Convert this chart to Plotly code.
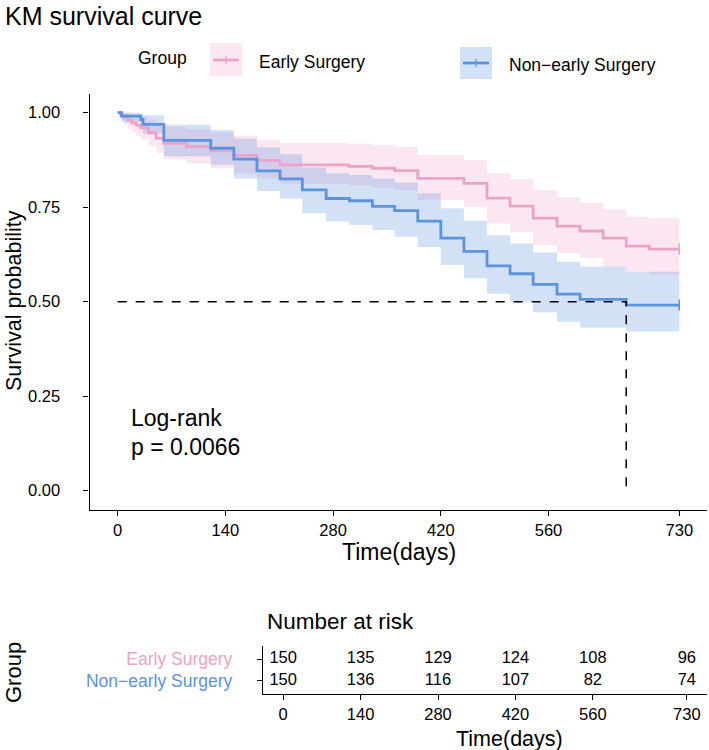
import plotly.graph_objects as go

W, H = 709, 750

# ---------------- data ----------------
early_time = [0, 4, 8, 13, 18, 24, 30, 40, 50, 60, 90, 121, 151, 181, 211, 300, 331, 360,
              390, 450, 480, 510, 540, 571, 601, 631, 661, 691]
early_surv = [1, 0.993, 0.987, 0.980, 0.973, 0.967, 0.960, 0.947, 0.933, 0.919, 0.910, 0.899,
              0.887, 0.874, 0.862, 0.858, 0.853, 0.847, 0.826, 0.813, 0.774, 0.753, 0.721,
              0.700, 0.687, 0.668, 0.647, 0.639]
early_upper = [1, 1, 1, 0.998, 0.995, 0.993, 0.990, 0.983, 0.975, 0.962, 0.956, 0.948, 0.939,
               0.928, 0.920, 0.918, 0.914, 0.910, 0.888, 0.875, 0.840, 0.824, 0.796, 0.776,
               0.762, 0.744, 0.725, 0.721]
early_lower = [1, 0.980, 0.969, 0.958, 0.948, 0.939, 0.930, 0.912, 0.894, 0.877, 0.866, 0.853,
               0.840, 0.826, 0.812, 0.808, 0.802, 0.795, 0.769, 0.751, 0.707, 0.685, 0.650,
               0.628, 0.615, 0.593, 0.579, 0.571]

non_time = [0, 5, 30, 33, 60, 121, 151, 181, 211, 240, 271, 301, 331, 360, 390, 420, 450,
            480, 510, 540, 571, 601, 661]
non_surv = [1, 0.991, 0.982, 0.969, 0.927, 0.906, 0.877, 0.846, 0.825, 0.796, 0.773, 0.767,
            0.752, 0.741, 0.713, 0.668, 0.633, 0.595, 0.574, 0.546, 0.520, 0.506, 0.491]
non_upper = [1, 1.0, 0.998, 0.993, 0.968, 0.954, 0.932, 0.908, 0.890, 0.855, 0.840, 0.835,
             0.826, 0.815, 0.787, 0.747, 0.714, 0.676, 0.654, 0.630, 0.606, 0.593, 0.579]
non_lower = [1, 0.976, 0.960, 0.945, 0.885, 0.862, 0.826, 0.793, 0.773, 0.734, 0.712, 0.703,
             0.690, 0.672, 0.645, 0.597, 0.562, 0.521, 0.500, 0.472, 0.447, 0.432, 0.421]

end_time = 730

risk_times = [0, 140, 280, 420, 560, 730]
risk_early = [150, 135, 129, 124, 108, 96]
risk_non = [150, 136, 116, 107, 82, 74]

groups = ["Early Surgery", "Non\u2212early Surgery"]
y_ticks = [0, 0.25, 0.5, 0.75, 1.0]
y_ticklabels = ["0.00", "0.25", "0.50", "0.75", "1.00"]
x_ticks = [0, 140, 280, 420, 560, 730]

PINK = "#EBA3C7"
BLUE = "#5C93DE"
PINK_FILL = "rgba(240,160,200,0.25)"
BLUE_FILL = "rgba(92,147,222,0.28)"
FONT = "Liberation Sans, Arial, sans-serif"


def px_x(px):
    return px / W


def px_y(py):
    return 1 - py / H


fig = go.Figure()


def add_band(t, lo, up, fill_col):
    tt = t + [end_time]
    fig.add_trace(go.Scatter(x=tt, y=lo + [lo[-1]], mode="lines", line=dict(width=0, shape="hv"),
                             showlegend=False, hoverinfo="skip", xaxis="x", yaxis="y"))
    fig.add_trace(go.Scatter(x=tt, y=up + [up[-1]], mode="lines", line=dict(width=0, shape="hv"),
                             fill="tonexty", fillcolor=fill_col, showlegend=False,
                             hoverinfo="skip", xaxis="x", yaxis="y"))


def add_line(t, s, line_col, name):
    tt = t + [end_time]
    fig.add_trace(go.Scatter(x=tt, y=s + [s[-1]], mode="lines",
                             line=dict(width=2.8, shape="hv", color=line_col),
                             name=name, showlegend=False, xaxis="x", yaxis="y"))
    fig.add_trace(go.Scatter(x=[end_time], y=[s[-1]], mode="markers",
                             marker=dict(symbol="line-ns-open", size=8, color=line_col,
                                         line=dict(width=1.5, color=line_col)),
                             showlegend=False, xaxis="x", yaxis="y"))


add_band(early_time, early_lower, early_upper, PINK_FILL)
add_band(non_time, non_lower, non_upper, BLUE_FILL)
add_line(early_time, early_surv, PINK, groups[0])
add_line(non_time, non_surv, BLUE, groups[1])

# median survival line (Non-early group)
median_t = next(t for t, s in zip(non_time, non_surv) if s <= 0.5)
fig.add_trace(go.Scatter(x=[0, median_t, median_t], y=[0.5, 0.5, 0], mode="lines",
                         line=dict(color="black", width=1.5, dash="dash"),
                         showlegend=False, xaxis="x", yaxis="y"))

# risk table
fig.add_trace(go.Scatter(x=risk_times, y=[2] * len(risk_times), mode="text",
                         text=[str(v) for v in risk_early],
                         textfont=dict(size=16.5, color="black", family=FONT),
                         showlegend=False, xaxis="x2", yaxis="y2"))
fig.add_trace(go.Scatter(x=risk_times, y=[1] * len(risk_times), mode="text",
                         text=[str(v) for v in risk_non],
                         textfont=dict(size=16.5, color="black", family=FONT),
                         showlegend=False, xaxis="x2", yaxis="y2"))

axis_common = dict(showline=True, linecolor="black", linewidth=1.4, ticks="outside",
                   tickcolor="black", ticklen=5, tickwidth=1.2, showgrid=False, zeroline=False)
tick_font = dict(size=16.5, color="black", family=FONT)

fig.update_layout(
    width=W, height=H, autosize=False,
    margin=dict(l=0, r=0, t=0, b=0),
    plot_bgcolor="white", paper_bgcolor="white",
    font=dict(family=FONT, color="black"),
    xaxis=dict(domain=[px_x(89.6), px_x(707.4)], range=[-36.5, 766.5], anchor="y",
               tickvals=x_ticks, ticktext=[str(v) for v in x_ticks], tickfont=tick_font,
               **axis_common),
    yaxis=dict(domain=[px_y(509.6), px_y(93.8)], range=[-0.05, 1.05], anchor="x",
               tickvals=y_ticks, ticktext=y_ticklabels, ticklabelstandoff=20, tickfont=tick_font,
               **axis_common),
    xaxis2=dict(domain=[px_x(263), px_x(707)], range=[-36.5, 766.5], anchor="y2",
                tickvals=x_ticks, ticktext=[str(v) for v in x_ticks], tickfont=tick_font,
                **axis_common),
    yaxis2=dict(domain=[px_y(694), px_y(646)], range=[0.4, 2.6], anchor="x2",
                tickvals=[2, 1],
                ticktext=[f"<span style='color:{PINK}'>{groups[0]}</span>",
                          f"<span style='color:{BLUE}'>{groups[1]}</span>"],
                ticklabelstandoff=21, tickfont=dict(size=17.5, family=FONT),
                **axis_common),
)

ann = []


def text(x, y, s, size, xanchor="left", yanchor="middle", angle=0, color="black"):
    ann.append(dict(x=px_x(x), y=px_y(y), xref="paper", yref="paper", text=s, showarrow=False,
                    xanchor=xanchor, yanchor=yanchor, textangle=angle,
                    font=dict(size=size, color=color, family=FONT)))


text(3, 16, "KM survival curve", 25)
text(136, 58, "Group", 17.5)
text(257, 62, "Early Surgery", 17.5)
text(507, 65, "Non\u2212early Surgery", 17.5)
text(14, 301, "Survival probability", 21.5, xanchor="center", angle=-90)
text(398.5, 552, "Time(days)", 23, xanchor="center")
text(129, 418, "Log-rank", 23)
text(129, 447, "p = 0.0066", 23)
text(265, 621, "Number at risk", 22.5)
text(13, 673, "Group", 22, xanchor="center", angle=-90)
text(509, 739, "Time(days)", 21.5, xanchor="center")
fig.update_layout(annotations=ann)

# legend keys
shapes = [
    dict(type="rect", xref="paper", yref="paper", x0=px_x(210), x1=px_x(242), y0=px_y(76), y1=px_y(43),
         fillcolor=PINK_FILL, line=dict(width=0)),
    dict(type="line", xref="paper", yref="paper", x0=px_x(213), x1=px_x(239), y0=px_y(60), y1=px_y(60),
         line=dict(color=PINK, width=2.8)),
    dict(type="line", xref="paper", yref="paper", x0=px_x(226), x1=px_x(226), y0=px_y(56), y1=px_y(64),
         line=dict(color=PINK, width=1.2)),
    dict(type="rect", xref="paper", yref="paper", x0=px_x(460), x1=px_x(492), y0=px_y(79), y1=px_y(47),
         fillcolor=BLUE_FILL, line=dict(width=0)),
    dict(type="line", xref="paper", yref="paper", x0=px_x(463), x1=px_x(489), y0=px_y(63), y1=px_y(63),
         line=dict(color=BLUE, width=2.8)),
    dict(type="line", xref="paper", yref="paper", x0=px_x(476), x1=px_x(476), y0=px_y(59), y1=px_y(67),
         line=dict(color=BLUE, width=1.2)),
]
fig.update_layout(shapes=shapes)

fig.write_html("out.html")
